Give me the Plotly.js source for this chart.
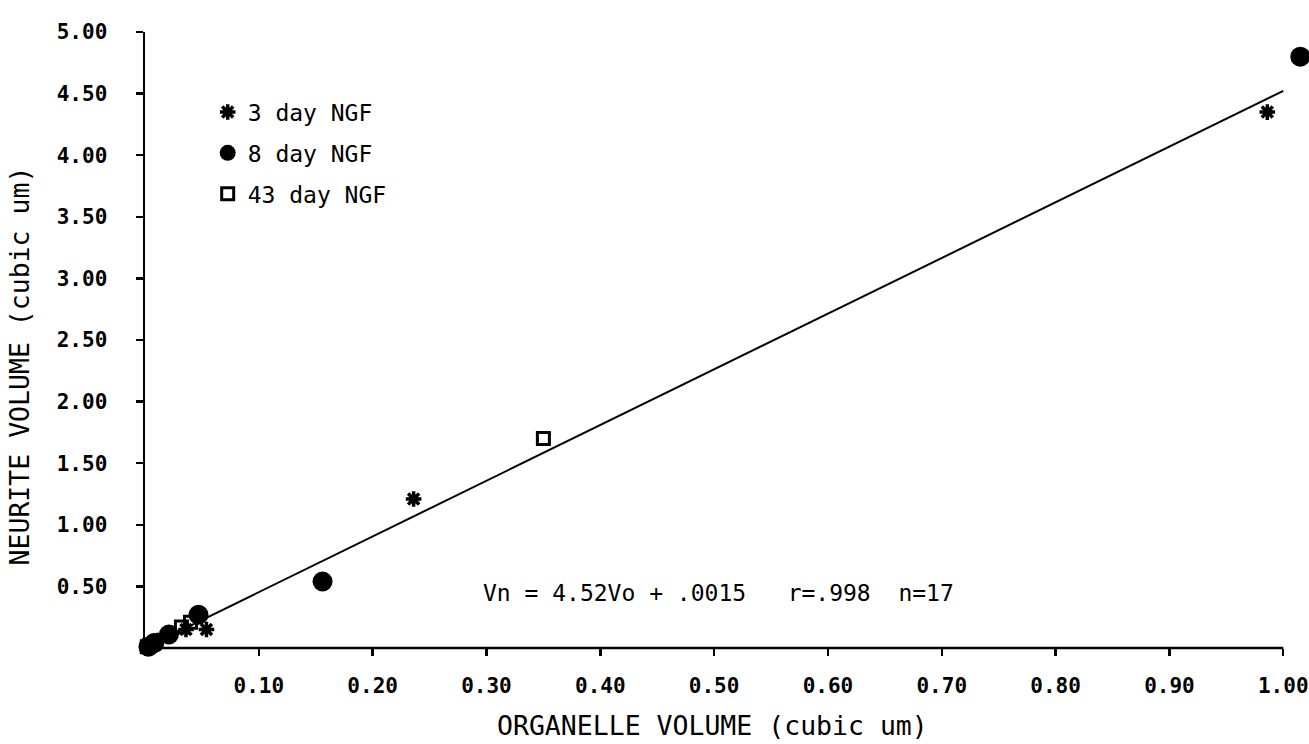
<!DOCTYPE html>
<html>
<head>
<meta charset="utf-8">
<script src="https://cdn.plot.ly/plotly-3.0.1.min.js"></script>
<style>html,body{margin:0;padding:0;background:#fff;}#chart{width:1309px;height:744px;}</style>
</head>
<body>
<div id="chart"></div>
<script>
// Data
const day3_x = [0.986, 0.236, 0.054, 0.036, 0.011, 0.005];
const day3_y = [4.35, 1.21, 0.15, 0.15, 0.06, 0.03];
const day8_x = [1.015, 0.156, 0.047, 0.021, 0.008, 0.003];
const day8_y = [4.80, 0.54, 0.27, 0.11, 0.04, 0.01];
const day43_x = [0.350, 0.040, 0.032, 0.004, 0.002];
const day43_y = [1.70, 0.21, 0.17, 0.02, 0.01];
const fit_slope = 4.52;
const fit_intercept = 0.0015;
const fit_x = [0, 1.0];
const fit_y = fit_x.map(v => fit_slope * v + fit_intercept);
const xtick_vals = [0.1, 0.2, 0.3, 0.4, 0.5, 0.6, 0.7, 0.8, 0.9, 1.0];
const xtick_text = ["0.10","0.20","0.30","0.40","0.50","0.60","0.70","0.80","0.90","1.00"];
const ytick_vals = [0.5, 1.0, 1.5, 2.0, 2.5, 3.0, 3.5, 4.0, 4.5, 5.0];
const ytick_text = ["0.50","1.00","1.50","2.00","2.50","3.00","3.50","4.00","4.50","5.00"];
const series_names = ["3 day NGF", "8 day NGF", "43 day NGF"];
const x_title = "ORGANELLE VOLUME (cubic um)";
const y_title = "NEURITE VOLUME (cubic um)";
const equation_text = "Vn = 4.52Vo + .0015&nbsp;&nbsp;&nbsp;r=.998&nbsp;&nbsp;n=17";
const x_axis_end = 1.0;

const titleFont = {family: "DejaVu Sans Mono, monospace", size: 26.5, color: "#000"};
const legendFont = {family: "DejaVu Sans Mono, monospace", size: 23, color: "#000"};
const tickFont = {family: "DejaVu Sans Mono, monospace", size: 21, color: "#000", weight: "bold"};

const traces = [
  {x: fit_x, y: fit_y, mode: "lines", line: {color: "#000", width: 2}, showlegend: false, hoverinfo: "skip", cliponaxis: false},
  {x: day3_x, y: day3_y, mode: "markers", name: series_names[0], legendgroup: "a",
   marker: {symbol: "asterisk-open", size: 13, color: "#000", line: {color: "#000", width: 3.5}}, cliponaxis: false},
  {x: day8_x, y: day8_y, mode: "markers", name: series_names[1], legendgroup: "b",
   marker: {symbol: "circle", size: 20, color: "#000", line: {width: 0}}, cliponaxis: false},
  {x: day43_x, y: day43_y, mode: "markers", name: series_names[2], legendgroup: "c",
   marker: {symbol: "square-open", size: 12, color: "#000", line: {color: "#000", width: 3}}, cliponaxis: false}
];

const layout = {
  width: 1309, height: 744,
  margin: {l: 145, r: 3, t: 32, b: 96},
  paper_bgcolor: "#fff", plot_bgcolor: "#fff",
  showlegend: true,
  legend: {x: 0.054, y: 0.905, xanchor: "left", yanchor: "top", font: legendFont,
           bgcolor: "rgba(0,0,0,0)", tracegroupgap: 8, itemwidth: 30},
  xaxis: {range: [0, 1.02], tickvals: xtick_vals, ticktext: xtick_text, tickfont: tickFont,
          showline: false, ticks: "outside", ticklen: 7,
          tickwidth: 2.5, tickcolor: "#000", ticklabelstandoff: 12, showgrid: false, zeroline: false},
  yaxis: {range: [0, 5.0], tickvals: ytick_vals, ticktext: ytick_text, tickfont: tickFont,
          showline: true, linecolor: "#000", linewidth: 2.5, ticks: "outside", ticklen: 7,
          tickwidth: 2.5, tickcolor: "#000", ticklabelstandoff: 24, showgrid: false, zeroline: false},
  shapes: [
    {type: "line", xref: "x", yref: "paper", x0: 0, x1: x_axis_end, y0: 0, y1: 0,
     line: {color: "#000", width: 2.5}, layer: "above"}
  ],
  annotations: [
    {xref: "x", yref: "y", x: 0.504, y: 0.447, text: equation_text, showarrow: false,
     font: {family: "DejaVu Sans Mono, monospace", size: 23, color: "#000"}, xanchor: "center", yanchor: "middle"},
    {xref: "x", yref: "paper", x: 0.499, y: -0.125, text: x_title, showarrow: false,
     font: titleFont, xanchor: "center", yanchor: "middle"},
    {xref: "paper", yref: "paper", x: -0.108, y: 0.458, text: y_title, showarrow: false, textangle: -90,
     font: titleFont, xanchor: "center", yanchor: "middle"}
  ]
};

Plotly.newPlot("chart", traces, layout, {displayModeBar: false, staticPlot: true});
</script>
</body>
</html>
